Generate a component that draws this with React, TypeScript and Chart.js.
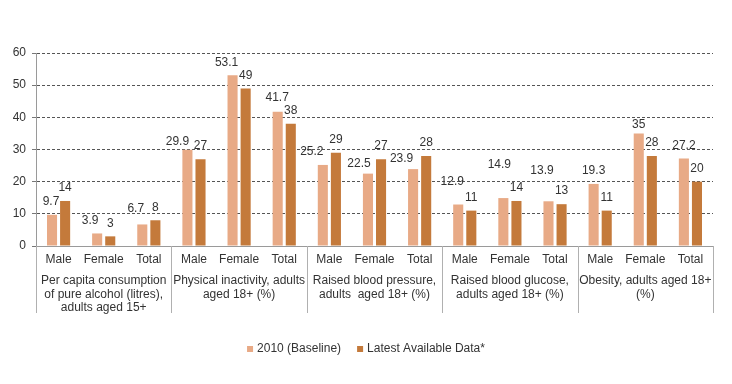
import React, { useEffect, useRef } from "react";
import { Chart, registerables } from "chart.js";

Chart.register(...registerables);

// ---- data ----
const subgroups = ["Male", "Female", "Total"];
const indicatorLabels: string[][] = [
  ["Per capita consumption", "of pure alcohol (litres),", "adults aged 15+"],
  ["Physical inactivity, adults", "aged 18+ (%)"],
  ["Raised blood pressure,", "adults  aged 18+ (%)"],
  ["Raised blood glucose,", "adults aged 18+ (%)"],
  ["Obesity, adults aged 18+", "(%)"],
];
const categories = indicatorLabels.flatMap(() => subgroups);
const baseline2010 = [9.7, 3.9, 6.7, 29.9, 53.1, 41.7, 25.2, 22.5, 23.9, 12.9, 14.9, 13.9, 19.3, 35, 27.2];
const latestData = [14, 3, 8, 27, 49, 38, 29, 27, 28, 11, 14, 13, 11, 28, 20];
const seriesNames = ["2010 (Baseline)", "Latest Available Data*"];
const yMin = 0;
const yMax = 60;
const yStep = 10;

// ---- style ----
const LIGHT = "#E8AA86";
const DARK = "#C47A3B";
const TEXT = "#333333";
const FONT = "12px 'Liberation Sans', Arial, sans-serif";
// manual nudges of the baseline value labels (px), as in the original
const baselineNudgeX = [-1, -7, -6.5, -10, -6, -0.5, -11, -9, -11.5, -6, -4, -6.5, 0, 0, 0];
const baselineNudgeY = [0, 0, 3, -5, 0, 0.7, 0, -3, -3, 9.6, 20, 17.4, 0, -4.5, -0.5];

const overlayPlugin = {
  id: "overlay",
  afterDatasetsDraw(chart: any) {
    const { ctx } = chart;
    ctx.save();
    ctx.font = FONT;
    ctx.fillStyle = TEXT;
    ctx.textAlign = "center";
    ctx.textBaseline = "middle";
    chart.data.datasets.forEach((ds: any, di: number) => {
      const meta = chart.getDatasetMeta(di);
      meta.data.forEach((bar: any, i: number) => {
        const dx = di === 0 ? baselineNudgeX[i] : 0;
        const dy = di === 0 ? baselineNudgeY[i] : 0;
        ctx.fillText(String(ds.data[i]), bar.x + dx, bar.y - 13 - dy);
      });
    });
    ctx.restore();
  },
  afterDraw(chart: any) {
    const { ctx, chartArea, scales } = chart;
    const x = scales.x;
    const bottom = chartArea.bottom;
    ctx.save();
    // category labels
    ctx.font = FONT;
    ctx.fillStyle = TEXT;
    ctx.textAlign = "center";
    ctx.textBaseline = "middle";
    categories.forEach((c, i) => {
      ctx.fillText(c, x.getPixelForValue(i), bottom + 14);
    });
    // group labels & separators
    ctx.strokeStyle = "#b0b0b0";
    ctx.lineWidth = 1;
    const n = subgroups.length;
    indicatorLabels.forEach((lines, g) => {
      const first = x.getPixelForValue(g * n);
      const last = x.getPixelForValue(g * n + n - 1);
      const cx = (first + last) / 2;
      lines.forEach((ln, li) => {
        ctx.fillText(ln, cx, bottom + 35 + li * 13.5);
      });
    });
    const bounds: number[] = [chartArea.left];
    for (let g = 1; g < indicatorLabels.length; g++) {
      bounds.push((x.getPixelForValue(g * n - 1) + x.getPixelForValue(g * n)) / 2);
    }
    bounds.push(chartArea.right);
    bounds.forEach((bx) => {
      const px = Math.round(bx) + 0.5;
      ctx.beginPath();
      ctx.moveTo(px, bottom);
      ctx.lineTo(px, bottom + 67);
      ctx.stroke();
    });
    // legend
    const box = 6;
    const gapBox = 4;
    const gapItem = 16;
    const widths = seriesNames.map((s) => ctx.measureText(s).width);
    const total = widths.reduce((a, w) => a + box + gapBox + w, 0) + gapItem;
    let lx = chart.width / 2 - total / 2;
    const ly = 349;
    ctx.textAlign = "left";
    seriesNames.forEach((s, i) => {
      ctx.fillStyle = i === 0 ? LIGHT : DARK;
      ctx.fillRect(lx, ly - box / 2, box, box);
      lx += box + gapBox;
      ctx.fillStyle = TEXT;
      ctx.fillText(s, lx, ly);
      lx += widths[i] + gapItem;
    });
    ctx.restore();
  },
};

export default function App() {
  const ref = useRef<HTMLCanvasElement | null>(null);
  useEffect(() => {
    if (!ref.current) return;
    const chart = new Chart(ref.current, {
      type: "bar",
      data: {
        labels: categories,
        datasets: [
          {
            label: seriesNames[0],
            data: baseline2010,
            backgroundColor: LIGHT,
            categoryPercentage: 0.58,
            barPercentage: 0.77,
          },
          {
            label: seriesNames[1],
            data: latestData,
            backgroundColor: DARK,
            categoryPercentage: 0.58,
            barPercentage: 0.77,
          },
        ],
      },
      options: {
        animation: false,
        responsive: false,
        maintainAspectRatio: false,
        layout: { padding: { top: 53, bottom: 138, left: 0, right: 19 } },
        plugins: {
          legend: { display: false },
          tooltip: { enabled: false },
        },
        scales: {
          x: {
            grid: { display: false },
            ticks: { display: false },
            border: { display: true, color: "#9a9a9a", width: 1 },
            afterFit: (s: any) => {
              s.height = 0;
            },
          },
          y: {
            min: yMin,
            max: yMax,
            ticks: {
              stepSize: yStep,
              color: TEXT,
              padding: 6,
              font: { family: "'Liberation Sans', Arial, sans-serif", size: 12 },
            },
            grid: {
              color: "#555555",
              lineWidth: 1,
              tickLength: 4,
              tickColor: "#777777",
            },
            border: { display: true, color: "#9a9a9a", width: 1, dash: [3, 2] },
            afterFit: (s: any) => {
              s.width = 36;
            },
          },
        },
      },
      plugins: [overlayPlugin],
    });
    return () => chart.destroy();
  }, []);
  return (
    <div style={{ position: "fixed", left: 0, top: 0, width: 732, height: 384, background: "#fff" }}>
      <canvas ref={ref} width={732} height={384} style={{ width: 732, height: 384 }} />
    </div>
  );
}
